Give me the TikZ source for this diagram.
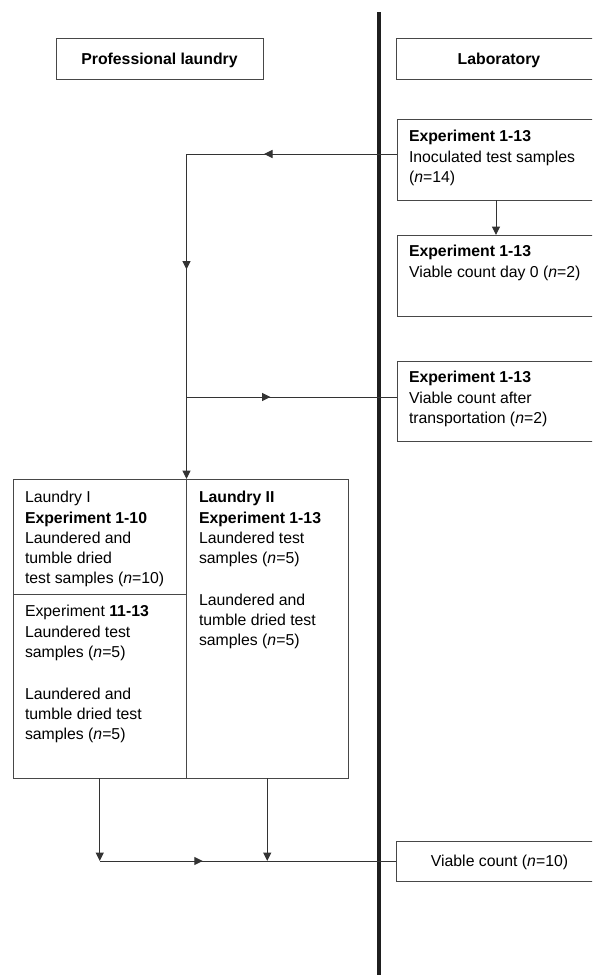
\documentclass[tikz,border=0pt]{standalone}
\usepackage{fontspec}
\setmainfont{Liberation Sans}
\usetikzlibrary{arrows.meta,decorations.markings,calc}
\tikzset{
  ln/.style={draw=black!80, line width=1pt},
  boxs/.style={draw=black!72, line width=0.9pt, inner sep=0pt, outer sep=0pt, anchor=north west},
  head/.style={boxs, font=\fontsize{15.8}{20.2}\selectfont\bfseries, text height=11.3pt, text depth=0pt},
  txt/.style={inner sep=0pt, outer sep=0pt, anchor=north west, align=left, font=\fontsize{15.8}{20.2}\selectfont},
  tip/.style={-{Triangle[length=8.5pt,width=8pt]}},
  mk/.style={postaction={decorate,decoration={markings,mark=at position #1 with {\arrow{Triangle[length=8.5pt,width=8pt]}}}}},
}
\begin{document}
\begin{tikzpicture}[x=1pt,y=-1pt]
\useasboundingbox (0,0) rectangle (592,975);
\clip (0,0) rectangle (592,975);
% divider
\coordinate (dtop) at (379,12);
\coordinate (dbot) at (379,975);
\draw[line width=3.8pt, black!88] (dtop) -- (dbot);
% headers
\node[head, minimum width=207pt, minimum height=41pt] (pl) at (56,38) {Professional laundry};
\node[head, minimum width=206pt, minimum height=41pt] (lab) at (396,38) {Laboratory};
% laboratory boxes
\node[boxs, minimum width=206pt, minimum height=81pt] (b1) at (397,119) {};
\node[boxs, minimum width=206pt, minimum height=81pt] (b2) at (397,235) {};
\node[boxs, minimum width=206pt, minimum height=80pt] (b3) at (397,361) {};
\node[boxs, minimum width=207pt, minimum height=40pt, font=\fontsize{15.8}{20.2}\selectfont, text height=11.3pt, text depth=0pt] (b4) at (396,841) {Viable count (\textit{n}=10)};
\node[txt] (t1) at ($(b1.north west)+(12,8.8)$) {\strut\textbf{Experiment 1-13}\\Inoculated test samples\\(\textit{n}=14)};
\node[txt] (t2) at ($(b2.north west)+(12,7.8)$) {\strut\textbf{Experiment 1-13}\\Viable count day 0 (\textit{n}=2)};
\node[txt] (t3) at ($(b3.north west)+(12,7.8)$) {\strut\textbf{Experiment 1-13}\\Viable count after\\transportation (\textit{n}=2)};
% laundry boxes
\node[boxs, minimum width=173.5pt, minimum height=115pt] (l1a) at (13,479) {};
\node[boxs, minimum width=173.5pt, minimum height=184pt] (l1b) at (13,594) {};
\node[boxs, minimum width=161.5pt, minimum height=299pt] (l2) at (186.5,479) {};
\node[txt] (tl1a) at ($(l1a.north west)+(12,9.8)$) {\strut Laundry I\\\textbf{Experiment 1-10}\\Laundered and\\tumble dried\\test samples (\textit{n}=10)};
\node[txt] (tl1b) at ($(l1b.north west)+(12,8.8)$) {\strut Experiment \textbf{11-13}\\Laundered test\\samples (\textit{n}=5)\\[22pt]Laundered and\\tumble dried test\\samples (\textit{n}=5)};
\node[txt] (tl2) at ($(l2.north west)+(12.5,9.8)$) {\strut\textbf{Laundry II}\\\textbf{Experiment 1-13}\\Laundered test\\samples (\textit{n}=5)\\[21.5pt]Laundered and\\tumble dried test\\samples (\textit{n}=5)};
% connectors
\coordinate (c1) at (186.5,154);
\draw[ln, tip, mk=133pt, mk=326pt] (b1.west |- c1) -- (c1) -- (l2.north west);
\draw[ln, tip] ([xshift=-4pt]b1.south) -- ([xshift=-4pt]b2.north);
\coordinate (c2) at (186.5,397);
\draw[ln, mk=84pt] (c2) -- (b3.west |- c2);
\coordinate (c3) at (l1b.south |- b4.west);
\draw[ln, tip] (l1b.south) -- (c3);
\draw[ln, mk=103pt] (c3) -- (b4.west);
\draw[ln, tip] (l2.south) -- (l2.south |- b4.west);
\end{tikzpicture}
\end{document}
